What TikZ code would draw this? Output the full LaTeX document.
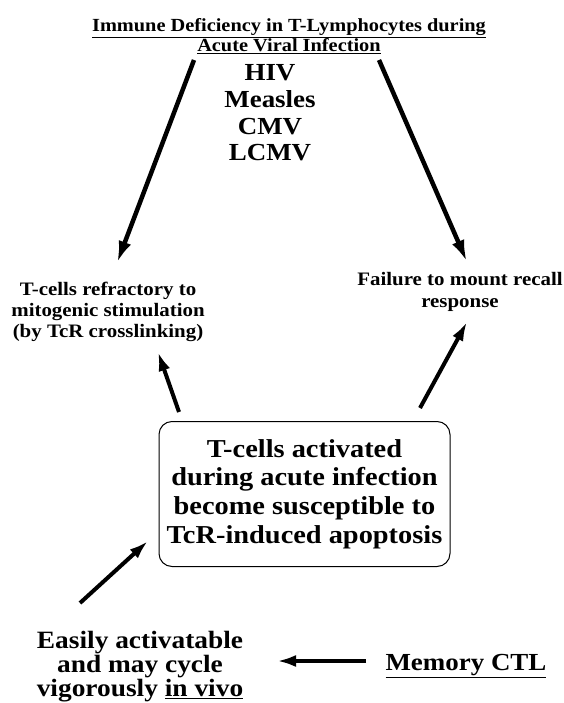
\documentclass[tikz,border=0pt]{standalone}
\usepackage{fontspec}
\setmainfont[FakeStretch=1.1]{Liberation Serif}
\usepackage{tikz}
\usetikzlibrary{arrows.meta}

\tikzset{
  bigarrow/.style={line width=4.5pt, -{Latex[length=22pt,width=13pt]}},
  smallarrow/.style={line width=4pt, -{Latex[length=19pt,width=12pt]}},
  txt/.style={inner sep=0.75pt, align=center}
}

\begin{document}
\begin{tikzpicture}[x=1pt,y=1pt,yscale=-1,xscale=1]
    \useasboundingbox (0,0) rectangle (563,703);

    % Text Node
    \node [txt, font={\bfseries\fontsize{18.5}{20}\selectfont}] (title) at (289,36) {\underline{Immune Deficiency in T-Lymphocytes during}\\\underline{Acute Viral Infection}};
    % Text Node
    \node [txt, font={\bfseries\fontsize{24.5}{26.7}\selectfont}] (virus) at (270,113) {HIV\\Measles\\CMV\\LCMV};
    % Text Node
    \node [txt, font={\bfseries\fontsize{19}{21}\selectfont}] (refract) at (108,312) {T-cells refractory to\\mitogenic stimulation\\(by TcR crosslinking)};
    % Text Node
    \node [txt, font={\bfseries\fontsize{19}{22}\selectfont}] (recall) at (460,292) {Failure to mount recall\\response};
    % Shape: Rectangle
    \node [draw, line width=1pt, rounded corners=13pt, minimum width=291, minimum height=145, inner sep=0pt, align=center, font={\bfseries\fontsize{25.8}{28.7}\selectfont}] (apopt) at (304.5,494) {T-cells activated\\during acute infection\\become susceptible to\\TcR-induced apoptosis};
    % Text Node
    \node [txt, font={\bfseries\fontsize{24.9}{24}\selectfont}] (easily) at (140,667) {Easily activatable\\and may cycle\\vigorously \underline{in vivo}};
    % Text Node
    \node [txt, font={\bfseries\fontsize{24.5}{24}\selectfont}] (memory) at (466,666) {\underline{Memory CTL}};

    % arrow ends
    \coordinate (lt) at (194,60);
    \coordinate (lb) at (117,263);
    \coordinate (rt) at (379,60);
    \coordinate (rb) at (467,262);
    \coordinate (al) at (179,412);
    \coordinate (tl) at (158,352);
    \coordinate (ar) at (420,408);
    \coordinate (tr) at (467,322);
    \coordinate (ea) at (80,603);
    \coordinate (ab) at (148,541);
    \coordinate (me) at (366,661);
    \coordinate (em) at (277,661);

    %Straight Lines
    \draw [bigarrow] (lt) -- (lb);
    \draw [bigarrow] (rt) -- (rb);
    \draw [smallarrow] (al) -- (tl);
    \draw [smallarrow] (ar) -- (tr);
    \draw [smallarrow] (ea) -- (ab);
    \draw [smallarrow] (me) -- (em);

\end{tikzpicture}
\end{document}
